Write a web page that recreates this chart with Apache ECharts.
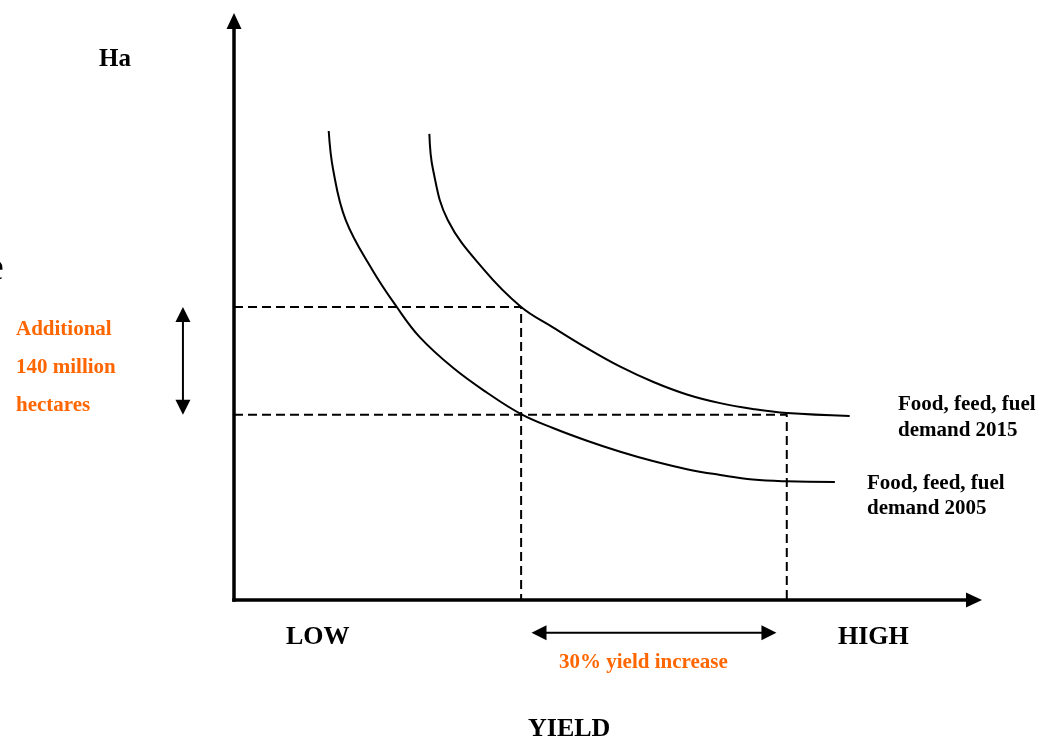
<!DOCTYPE html>
<html>
<head>
<meta charset="utf-8">
<script src="https://cdn.jsdelivr.net/npm/echarts@6/dist/echarts.min.js"></script>
<style>
html,body{margin:0;padding:0;background:#fff;}
#chart{width:1039px;height:739px;}
</style>
</head>
<body>
<div id="chart"></div>
<script>
// Curve: Food, feed, fuel demand 2005 (yield index, hectare index)
const curve2005X = [12.8, 13.4, 15.1, 18.7, 22.0, 25.1, 29.6, 34.2, 38.8, 43.1, 47.7, 52.2, 56.6, 61.2, 65.7, 70.1, 74.7, 81.2];
const curve2005Y = [81.0, 74.3, 65.6, 57.0, 50.6, 45.4, 40.1, 35.8, 32.1, 29.7, 27.5, 25.6, 24.0, 22.6, 21.6, 20.8, 20.5, 20.4];
// Curve: Food, feed, fuel demand 2015
const curve2015X = [26.4, 26.9, 28.9, 33.8, 38.8, 43.1, 47.7, 52.2, 56.6, 61.2, 65.7, 70.1, 74.7, 83.2];
const curve2015Y = [80.5, 74.3, 65.6, 57.0, 50.6, 47.1, 43.5, 40.3, 37.7, 35.5, 34.0, 33.0, 32.3, 31.8];
// Guide levels
const haLevels = [50.6, 32.0];      // hectares: 2015 demand at low yield, 2005 demand at same yield
const yieldLevels = [38.8, 74.7];   // low yield, high yield (+30%)
// Annotation arrows (start x, start y, end x, end y)
const haArrow = [-6.9, 50.6, -6.9, 32.0];
const yieldArrow = [40.2, -5.65, 73.3, -5.65];

const zip = (xs, ys) => xs.map((x, i) => [x, ys[i]]);
const serif = '"Liberation Serif", "Times New Roman", serif';
const orange = '#FF6600';

const chart = echarts.init(document.getElementById('chart'), null, {renderer: 'canvas'});

const axisCommon = {
  type: 'value', min: 0, max: 100,
  axisLine: {show: true, symbol: ['none', 'triangle'], symbolSize: [15, 16],
    lineStyle: {color: '#000', width: 3.5, cap: 'square'}},
  axisTick: {show: false}, axisLabel: {show: false}, splitLine: {show: false}
};

function txt(text, x, y, size, color, weight) {
  return {type: 'text', silent: true, style: {
    text: text, x: x, y: y, fill: color || '#000',
    font: (weight || 'bold') + ' ' + size + 'px ' + serif,
    align: 'left', verticalAlign: 'middle'}};
}

// Draws a whole smooth curve through all the series' points (mapped with api.coord)
function renderCurve(params, api) {
  if (params.dataIndexInside !== 0) return null;
  const pts = [];
  for (let i = 0; i < params.dataInsideLength; i++) {
    pts.push(api.coord([api.value(0, i), api.value(1, i)]));
  }
  return {type: 'polyline', shape: {points: pts, smooth: 0.4},
    style: {stroke: '#000', lineWidth: 2, fill: 'none'}};
}

function renderArrow(params, api) {
  const a = api.coord([api.value(0), api.value(1)]);
  const b = api.coord([api.value(2), api.value(3)]);
  const dx = b[0] - a[0], dy = b[1] - a[1];
  const len = Math.hypot(dx, dy) || 1;
  const ux = dx / len, uy = dy / len;
  const nx = -uy, ny = ux;
  const L = 15, W = 7.5;
  const head = (tip, ox, oy) => [
    [tip[0], tip[1]],
    [tip[0] - ox * L + nx * W, tip[1] - oy * L + ny * W],
    [tip[0] - ox * L - nx * W, tip[1] - oy * L - ny * W]
  ];
  return {type: 'group', children: [
    {type: 'line', shape: {x1: a[0] + ux * L * 0.5, y1: a[1] + uy * L * 0.5, x2: b[0] - ux * L * 0.5, y2: b[1] - uy * L * 0.5},
      style: {stroke: '#000', lineWidth: 2}},
    {type: 'polygon', shape: {points: head(a, -ux, -uy)}, style: {fill: '#000'}},
    {type: 'polygon', shape: {points: head(b, ux, uy)}, style: {fill: '#000'}}
  ]};
}

chart.setOption({
  animation: false,
  backgroundColor: '#fff',
  grid: {left: 234, top: 21, right: 65, bottom: 139, containLabel: false},
  xAxis: Object.assign({}, axisCommon),
  yAxis: Object.assign({}, axisCommon),
  series: [
    {type: 'custom', name: 'Food, feed, fuel demand 2005', renderItem: renderCurve, clip: false, silent: true,
      encode: {x: 0, y: 1}, data: zip(curve2005X, curve2005Y)},
    {type: 'custom', name: 'Food, feed, fuel demand 2015', renderItem: renderCurve, clip: false, silent: true,
      encode: {x: 0, y: 1}, data: zip(curve2015X, curve2015Y)},
    {type: 'line', data: [[0, haLevels[0]], [yieldLevels[0], haLevels[0]], [yieldLevels[0], 0]], showSymbol: false, silent: true,
      lineStyle: {color: '#000', width: 2, type: [9, 5]}},
    {type: 'line', data: [[0, haLevels[1]], [yieldLevels[1], haLevels[1]], [yieldLevels[1], 0]], showSymbol: false, silent: true,
      lineStyle: {color: '#000', width: 2, type: [9, 5]}},
    {type: 'custom', clip: false, silent: true, renderItem: renderArrow,
      encode: {x: [0, 2], y: [1, 3]},
      data: [haArrow, yieldArrow]}
  ],
  graphic: [
    txt('Ha', 99, 60, 25),
    {type: 'text', silent: true, style: {text: 'e', x: 4, y: 269, fill: '#000', font: 'normal 42px ' + serif, align: 'right', verticalAlign: 'middle'}},
    txt('Additional', 16, 330, 21, orange),
    txt('140 million', 16, 368, 21, orange),
    txt('hectares', 16, 406, 21, orange),
    txt('Food, feed, fuel', 898, 405, 21),
    txt('demand 2015', 898, 431, 21),
    txt('Food, feed, fuel', 867, 483.5, 21),
    txt('demand 2005', 867, 509, 21),
    txt('LOW', 286, 637.5, 26),
    txt('HIGH', 838, 637.5, 26),
    txt('30% yield increase', 559, 663, 21, orange),
    txt('YIELD', 528, 729.5, 26)
  ]
});
</script>
</body>
</html>
